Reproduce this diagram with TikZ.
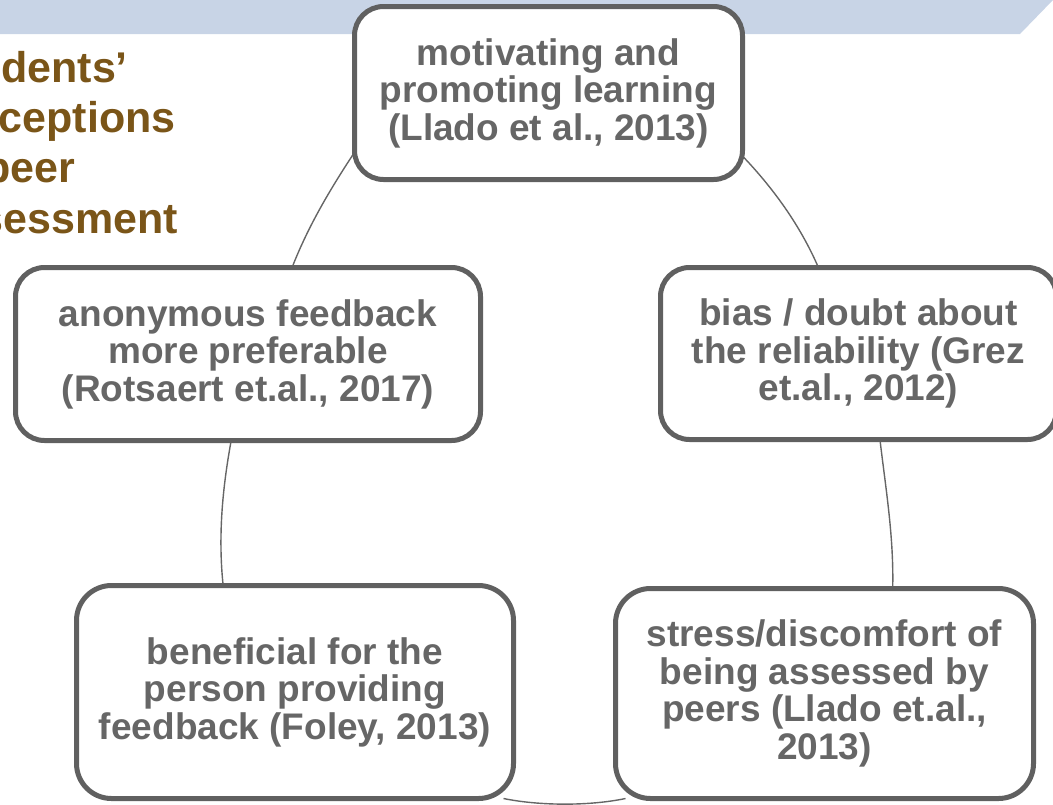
\documentclass[tikz,border=0pt]{standalone}
\usepackage{fontspec}
\setmainfont{Liberation Sans}
\usetikzlibrary{backgrounds}
\definecolor{bannerblue}{RGB}{200,212,230}
\definecolor{boxline}{RGB}{96,96,96}
\definecolor{boxtext}{RGB}{102,102,102}
\definecolor{titlebrown}{RGB}{122,85,24}
\definecolor{arcline}{RGB}{102,102,102}
\tikzset{
  cyclebox/.style={draw=boxline, line width=5pt, fill=white, rounded corners=29pt,
    align=center, text=boxtext, font=\fontsize{37}{37.5}\selectfont\bfseries,
    inner sep=0pt, outer sep=0pt},
  bigbox/.style={cyclebox, rounded corners=35pt},
  cyclearc/.style={draw=arcline, line width=1.4pt},
  titletext/.style={anchor=north west, align=left, text=titlebrown,
    font=\fontsize{43}{50.4}\selectfont\bfseries, inner sep=0pt, outer sep=0pt}
}
\begin{document}
\begin{tikzpicture}[x=1pt,y=-1pt]
\useasboundingbox (0,0) rectangle (1053,804);
\clip (0,0) rectangle (1053,804);
\node[titletext] (title) at (-68,51) {Students’\\perceptions\\of peer\\assessment};
\node[cyclebox, minimum width=388pt, minimum height=173pt] (b1) at (548.5,93)
  {motivating and\\promoting learning\\(Llado et al., 2013)};
\node[cyclebox, minimum width=465pt, minimum height=173pt] (b2) at (248,354)
  {anonymous feedback\\more preferable\\(Rotsaert et.al., 2017)};
\node[cyclebox, minimum width=396pt, minimum height=172pt] (b3) at (858.5,353.5)
  {bias / doubt about\\the reliability (Grez\\et.al., 2012)};
\node[bigbox, minimum width=437pt, minimum height=213pt] (b4) at (295,692)
  {beneficial for the\\person providing\\feedback (Foley, 2013)};
\node[bigbox, minimum width=418pt, minimum height=210pt] (b5) at (824.5,693.5)
  {stress/discomfort of\\being assessed by\\peers (Llado et.al.,\\2013)};
\begin{pgfonlayer}{background}
  \fill[bannerblue] (0,0) -- (1053,0) -- (1020,34) -- (0,34) -- cycle;
  \draw[cyclearc] (b1.197.4) .. controls (329.4,190.4) and (308.2,226.3) .. (b2.63);
  \draw[cyclearc] (b1.342.6) .. controls (773.5,188.5) and (800.3,225.6) .. (b3.115);
  \draw[cyclearc] (b2.259.5) .. controls (222.3,489) and (218,537) .. (b4.124.8);
  \draw[cyclearc] (b3.284) .. controls (885.9,490) and (893.9,537) .. (b5.57.3);
  \draw[cyclearc] ([xshift=-10pt]b4.south east) .. controls (540,806) and (590,806) .. ([xshift=10pt]b5.south west);
\end{pgfonlayer}
\end{tikzpicture}
\end{document}
